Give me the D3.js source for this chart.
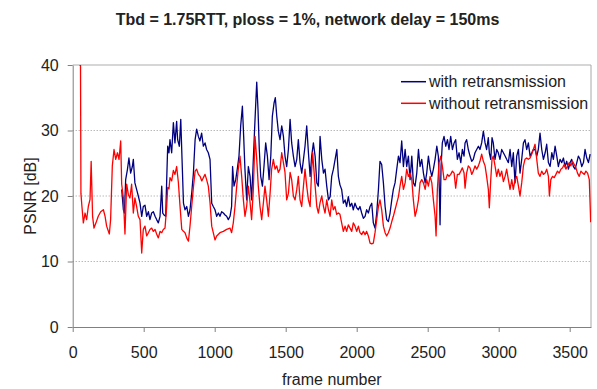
<!DOCTYPE html>
<html>
<head>
<meta charset="utf-8">
<script src="https://cdn.jsdelivr.net/npm/d3@7"></script>
<style>
  body { margin: 0; background: #fff; }
  text { font-family: "Liberation Sans", Arial, sans-serif; fill: #222; }
</style>
</head>
<body>
<div id="chart"></div>
<script>
// chart data
const titleText = "Tbd = 1.75RTT, ploss = 1%, network delay = 150ms";
const seriesNames = ["with retransmission", "without retransmission"];
const seriesColors = ["#000080", "#ff0000"];
const yTicks = [0, 10, 20, 30, 40];
const xTicks = [0, 500, 1000, 1500, 2000, 2500, 3000, 3500];

const withFrames = [345,357,364,373,385,396,408,420,427,438,450,462,474,486,497,509,521,533,544,556,568,580,591,603,615,627,634,643,655,662,669,678,685,697,709,720,732,739,751,761,770,780,791,803,815,826,838,850,862,873,885,896,908,920,932,943,955,967,979,990,1002,1014,1026,1037,1049,1061,1073,1084,1096,1108,1119,1126,1136,1148,1159,1171,1183,1195,1204,1213,1225,1237,1249,1260,1272,1284,1296,1305,1314,1324,1336,1347,1359,1371,1383,1395,1406,1418,1427,1437,1448,1460,1472,1484,1495,1507,1519,1531,1542,1554,1566,1578,1589,1601,1613,1625,1636,1648,1660,1672,1683,1695,1707,1719,1730,1742,1754,1766,1777,1789,1801,1813,1824,1836,1848,1860,1871,1882,1894,1906,1918,1929,1941,1953,1965,1976,1988,2000,2012,2023,2035,2047,2059,2070,2082,2094,2106,2117,2129,2141,2153,2164,2176,2188,2200,2211,2223,2235,2247,2258,2270,2282,2294,2305,2317,2329,2341,2352,2364,2376,2388,2399,2411,2423,2435,2446,2458,2470,2482,2493,2505,2517,2529,2540,2552,2564,2575,2582,2587,2594,2603,2615,2627,2639,2650,2662,2674,2686,2697,2709,2721,2733,2744,2756,2763,2774,2786,2798,2810,2821,2833,2845,2857,2868,2880,2892,2904,2915,2927,2934,2944,2953,2962,2974,2986,2997,3009,3021,3033,3045,3056,3068,3080,3092,3103,3115,3127,3139,3150,3162,3174,3185,3197,3209,3221,3233,3244,3256,3268,3279,3291,3303,3315,3327,3338,3350,3362,3374,3385,3397,3409,3420,3432,3444,3456,3467,3479,3491,3503,3514,3526,3538,3550,3561,3573,3585,3597,3608,3620,3632,3644];
const withPsnr = [21.0,17.9,17.4,22.5,24.0,25.8,23.5,24.5,25.6,22.0,21.0,20.0,18.9,16.9,18.4,18.6,16.9,17.6,16.4,17.4,17.6,16.9,16.4,15.9,16.9,21.5,17.4,17.1,16.9,22.5,27.6,26.6,28.6,26.6,31.2,28.1,31.4,28.6,27.6,31.7,25.6,18.9,17.9,18.4,16.9,17.9,20.4,23.5,28.6,30.2,29.1,28.4,29.6,27.6,28.1,27.1,26.6,25.6,18.9,18.4,17.9,16.9,17.4,16.9,17.6,17.4,17.1,16.9,16.4,16.9,18.4,24.5,21.5,22.5,24.1,26.1,30.7,33.7,29.1,24.1,19.4,24.5,23.0,19.4,25.6,31.7,37.4,33.2,27.1,23.0,21.5,24.5,28.1,26.1,22.5,26.1,32.2,34.2,35.0,32.2,29.9,28.6,30.7,29.1,26.1,24.5,27.1,31.7,28.1,26.1,24.5,25.6,28.6,25.1,23.5,25.6,27.6,30.7,26.6,23.0,26.1,28.1,26.1,22.0,21.5,29.1,25.6,23.5,24.1,21.5,19.4,19.9,23.0,24.1,25.6,27.1,23.0,21.7,21.0,18.9,19.4,18.4,19.9,18.4,18.9,17.9,18.9,18.2,17.9,18.4,17.4,16.6,16.9,17.9,17.4,18.4,18.9,15.9,15.1,17.4,21.0,25.3,24.8,22.0,18.4,16.4,16.1,17.4,19.4,21.0,22.0,24.1,26.1,25.1,28.4,24.5,27.1,24.5,26.1,22.5,26.1,22.0,21.5,23.5,27.1,24.5,25.6,23.5,22.0,23.5,26.1,24.1,23.0,24.1,25.6,27.6,26.1,21.0,15.6,24.5,28.1,29.1,27.6,28.6,27.1,29.1,27.1,28.1,28.6,25.6,26.6,25.1,27.1,26.1,28.1,28.6,27.1,26.1,25.3,25.6,26.6,27.1,27.6,27.1,28.1,29.9,28.1,27.1,28.9,26.6,25.6,28.9,28.1,25.6,27.1,26.6,25.6,27.1,26.6,26.1,25.6,25.1,27.1,24.5,26.6,22.0,26.1,27.1,23.5,25.6,28.1,28.6,27.1,28.1,26.1,26.6,27.1,27.1,26.1,27.1,29.6,27.1,25.6,26.6,27.9,25.1,24.5,26.6,25.6,27.6,26.1,24.5,25.6,25.1,25.8,24.5,25.3,24.1,25.1,25.6,24.5,24.1,25.1,26.1,25.6,24.5,25.1,27.1,25.8,25.1,26.4];

const withoutFrames = [47,55,58,65,75,87,98,110,122,130,140,150,164,180,197,216,228,239,258,267,279,291,303,315,326,338,345,357,368,380,392,403,415,427,438,450,462,474,486,497,509,521,533,544,556,568,580,591,603,615,627,638,650,662,669,678,685,697,709,720,732,744,756,768,780,791,803,815,826,838,850,862,873,885,897,909,920,932,943,955,967,979,990,1002,1014,1037,1061,1084,1108,1119,1131,1143,1155,1166,1178,1190,1202,1213,1225,1237,1249,1260,1272,1284,1296,1307,1319,1331,1343,1354,1366,1378,1390,1401,1413,1425,1437,1448,1460,1472,1484,1495,1507,1519,1531,1542,1554,1566,1578,1589,1601,1613,1625,1636,1648,1660,1672,1683,1690,1702,1719,1730,1742,1754,1766,1777,1789,1801,1813,1824,1835,1847,1859,1871,1882,1894,1906,1918,1929,1941,1953,1965,1976,1988,2000,2012,2023,2035,2047,2059,2070,2082,2094,2106,2117,2129,2141,2153,2164,2176,2188,2200,2211,2223,2235,2247,2258,2270,2282,2294,2305,2317,2329,2341,2352,2364,2376,2388,2399,2411,2423,2435,2446,2458,2470,2482,2493,2505,2517,2529,2540,2552,2559,2568,2580,2592,2603,2615,2627,2639,2650,2662,2674,2686,2697,2709,2721,2733,2744,2756,2763,2774,2786,2798,2810,2821,2833,2845,2857,2868,2880,2892,2904,2915,2927,2934,2944,2953,2962,2974,2986,2997,3009,3021,3033,3045,3056,3068,3080,3092,3103,3115,3127,3139,3150,3162,3174,3185,3197,3209,3221,3233,3244,3256,3268,3279,3291,3303,3315,3327,3338,3350,3357,3367,3379,3391,3403,3414,3426,3438,3450,3461,3473,3485,3497,3508,3520,3532,3544,3555,3567,3579,3591,3603,3614,3626,3638,3648];
const withoutPsnr = [40,40,20.4,18.4,15.9,17.4,16.4,18.4,19.5,25.3,16.9,15.1,15.9,16.9,17.6,17.9,16.9,15.4,14.2,16.4,24.6,27.1,25.6,26.6,25.6,28.4,21.8,19.7,14.2,21.8,20.2,19.7,21.8,17.4,19.7,18.4,16.9,16.4,11.3,14.9,15.4,13.9,14.4,14.9,15.1,14.6,14.9,14.2,13.6,14.6,14.4,14.9,15.1,18.4,21.3,21.1,22.8,22.3,23.9,23.3,24.5,22.1,18.4,14.9,14.6,14.4,13.6,13.1,15.4,18.4,21.3,23.8,24.1,23.3,23.0,22.3,22.8,23.3,22.5,21.5,19.0,15.4,14.4,13.3,13.9,14.4,14.6,14.9,15.1,14.4,15.9,18.4,21.5,24.1,26.1,23.0,19.4,16.9,18.4,21.5,19.0,16.4,21.0,29.1,25.6,21.5,18.4,16.4,19.0,21.5,19.4,16.9,20.4,24.1,25.6,24.1,24.6,23.6,24.1,26.6,25.1,23.6,19.4,20.4,23.6,22.5,20.0,19.4,21.0,23.0,19.4,18.4,21.5,24.1,21.5,19.4,18.4,24.1,26.6,23.0,18.4,17.4,19.0,20.0,18.4,17.4,19.4,17.9,16.9,19.4,17.9,18.4,17.2,17.4,17.2,15.9,14.6,15.4,14.6,15.6,15.1,14.6,15.9,15.4,14.6,15.4,14.4,14.1,14.6,14.1,14.6,13.9,12.8,12.7,12.8,14.4,16.4,18.4,19.4,17.9,15.4,14.4,13.9,14.4,15.1,16.1,16.9,17.9,18.9,19.9,21.5,23.0,21.0,22.0,24.1,23.0,23.5,22.5,19.4,16.9,17.9,19.4,22.0,22.5,22.0,21.0,22.5,21.5,23.0,22.0,19.4,16.9,13.9,21.0,25.1,26.1,24.6,22.5,22.5,23.3,23.0,23.3,23.8,23.5,21.2,23.3,23.3,23.8,24.3,23.5,21.2,23.5,24.6,24.3,23.3,23.8,24.6,24.1,24.6,25.3,26.4,25.3,24.6,23.0,21.0,18.2,22.5,25.6,26.1,24.6,23.0,24.1,23.0,23.8,22.2,23.0,24.1,22.5,21.0,22.5,21.0,22.5,23.0,21.5,20.0,22.0,24.6,25.6,25.8,25.6,25.8,26.4,27.1,27.9,25.6,23.5,23.0,23.8,23.3,23.5,24.1,23.0,20.0,22.5,23.0,22.8,23.3,23.8,23.5,24.1,24.3,24.8,24.1,24.6,25.1,24.6,25.3,24.8,24.3,23.5,23.0,23.8,23.5,23.3,23.8,23.5,22.5,16.0];

const width = 597, height = 389;
const plot = {left: 72.7, right: 591, top: 65, bottom: 327};

const svg = d3.select("#chart").append("svg")
    .attr("width", width)
    .attr("height", height);

const x = d3.scaleLinear().domain([0, 3650]).range([plot.left, plot.right]);
const y = d3.scaleLinear().domain([0, 40]).range([plot.bottom, plot.top]);

// dotted gridlines
svg.append("g")
  .selectAll("line")
  .data(yTicks.filter(d => d > 0 && d < 40))
  .join("line")
    .attr("x1", plot.left).attr("x2", plot.right)
    .attr("y1", d => y(d)).attr("y2", d => y(d))
    .attr("stroke", "#9a9a9a")
    .attr("stroke-dasharray", "1,2");

// frame on top / right
svg.append("line")
    .attr("x1", plot.left).attr("x2", plot.right)
    .attr("y1", y(40)).attr("y2", y(40))
    .attr("stroke", "#c8c8c8").attr("stroke-width", 1.5);
svg.append("line")
    .attr("x1", plot.right).attr("x2", plot.right)
    .attr("y1", y(40)).attr("y2", y(0))
    .attr("stroke", "#a8a8a8");

// lines
svg.append("clipPath").attr("id", "clip")
  .append("rect")
    .attr("x", plot.left).attr("y", plot.top)
    .attr("width", plot.right - plot.left).attr("height", plot.bottom - plot.top);

const line = d3.line().x(d => x(d[0])).y(d => y(d[1]));
const series = [
  d3.zip(withFrames, withPsnr),
  d3.zip(withoutFrames, withoutPsnr)
];

svg.append("g").attr("clip-path", "url(#clip)")
  .selectAll("path")
  .data(series)
  .join("path")
    .attr("d", line)
    .attr("fill", "none")
    .attr("stroke", (d, i) => seriesColors[i])
    .attr("stroke-width", 1.3)
    .attr("stroke-linejoin", "round");

// axes
const yAxis = svg.append("g")
    .attr("transform", `translate(${plot.left},0)`)
    .call(d3.axisLeft(y).tickValues(yTicks).tickSize(5).tickPadding(9).tickSizeOuter(0));
const xAxis = svg.append("g")
    .attr("transform", `translate(0,${plot.bottom})`)
    .call(d3.axisBottom(x).tickValues(xTicks).tickFormat(d3.format("d"))
      .tickSize(5).tickPadding(15).tickSizeOuter(0));

[yAxis, xAxis].forEach(a => {
  a.select(".domain").attr("stroke", "#808080");
  a.selectAll(".tick line").attr("stroke", "#808080");
  a.selectAll(".tick text")
    .attr("font-family", "'Liberation Sans', Arial, sans-serif")
    .attr("font-size", 16)
    .attr("fill", "#222");
});

// title and axis labels
svg.append("text")
    .text(titleText)
    .attr("x", 307.5).attr("y", 24.5)
    .attr("text-anchor", "middle")
    .attr("font-size", 16)
    .attr("font-weight", "bold");

svg.append("text")
    .text("frame number")
    .attr("x", (plot.left + plot.right) / 2).attr("y", 385)
    .attr("text-anchor", "middle")
    .attr("font-size", 16);

svg.append("text")
    .text("PSNR [dB]")
    .attr("transform", `translate(36,${(plot.top + plot.bottom) / 2}) rotate(-90)`)
    .attr("text-anchor", "middle")
    .attr("font-size", 16);

// legend
const legend = svg.append("g")
  .selectAll("g")
  .data(seriesNames)
  .join("g")
    .attr("transform", (d, i) => `translate(401,${81.7 + i * 21.6})`);
legend.append("line")
    .attr("x1", 0).attr("x2", 25)
    .attr("stroke", (d, i) => seriesColors[i])
    .attr("stroke-width", 1.5);
legend.append("text")
    .text(d => d)
    .attr("x", 28).attr("dy", "0.35em")
    .attr("font-size", 16);
</script>
</body>
</html>
